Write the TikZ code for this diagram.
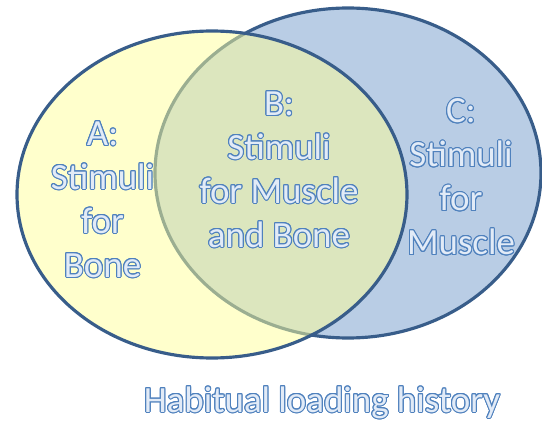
\documentclass[tikz,border=0pt]{standalone}
\usepackage{fontspec}
\setmainfont{Carlito}
\usepackage{contour}
\usetikzlibrary{shapes.geometric}

\definecolor{rimblue}{HTML}{385D8A}
\definecolor{muscleblue}{HTML}{B9CDE5}
\definecolor{boneyellow}{HTML}{FFFF99}
\definecolor{glowfill}{HTML}{E2EBF7}
\definecolor{glowedge}{HTML}{4F81BD}

\contourlength{0.6pt}
\newcommand{\glow}[1]{\contour{glowedge}{#1}}

\begin{document}
\begin{tikzpicture}[
    set/.style={
        ellipse, draw=rimblue, line width=1.8pt, inner sep=0pt
    },
    settext/.style={
        align=center, text=glowfill,
        font=\fontsize{21}{25}\selectfont
    }
]
\useasboundingbox (0,0) rectangle (10.84,-8.46);

% Sets
\node[set, fill=muscleblue, minimum width=7.72cm, minimum height=6.6cm] (muscle) at (6.96,-3.46) {};
\node[set, fill=boneyellow, fill opacity=0.5, minimum width=7.8cm, minimum height=6.54cm] (bone) at (4.24,-3.89) {};

% Labels
\node[settext] (stimA) at (2.05,-4.0) {\glow{A:}\\ \glow{Stimuli}\\ \glow{for}\\ \glow{Bone}};
\node[settext] (stimB) at (5.58,-3.4) {\glow{B:}\\ \glow{Stimuli}\\ \glow{for Muscle}\\ \glow{and Bone}};
\node[settext] (stimC) at (9.22,-3.55) {\glow{C:}\\ \glow{Stimuli}\\ \glow{for}\\ \glow{Muscle}};
\node[settext] (history) at (6.44,-8.06) {\glow{Habitual loading history}};

\end{tikzpicture}
\end{document}
